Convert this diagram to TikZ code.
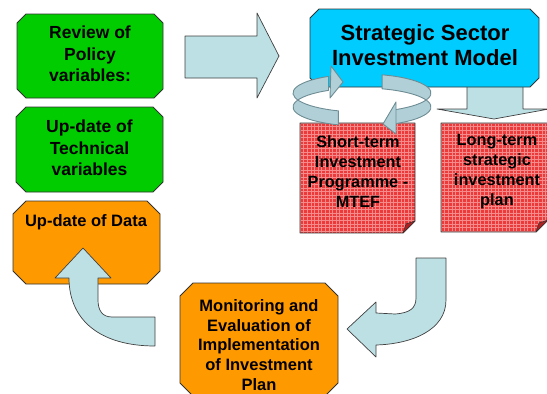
\documentclass[tikz,border=0pt]{standalone}
\usepackage{fontspec}
\setmainfont{Liberation Sans}
\definecolor{grn}{HTML}{00CC00}
\definecolor{org}{HTML}{FF9900}
\definecolor{blu}{HTML}{00CCFF}
\definecolor{arw}{HTML}{BDE0E4}
\definecolor{pg}{HTML}{EC3A3A}
\definecolor{pgl}{HTML}{F78A8A}
\definecolor{pgd}{HTML}{B02020}
\definecolor{ringc}{HTML}{B0CFD6}
\definecolor{ringd}{HTML}{6E8C94}
\newcommand\chamf[5]{(#1+#5,#2) -- (#3-#5,#2) -- (#3,#2+#5) -- (#3,#4-#5) -- (#3-#5,#4) -- (#1+#5,#4) -- (#1,#4-#5) -- (#1,#2+#5) -- cycle}
\newcommand\pagepath[4]{(#1,#2) -- (#3,#2) -- (#3,#4-12) -- (#3-12,#4) -- (#1,#4) -- cycle}
\newcommand\ribbonpath[2]{(362,93) ++(#1:69 and 19) arc[start angle=#1, end angle=#2, x radius=69, y radius=19] -- ++(0,14) arc[start angle=#2, end angle=#1, x radius=69, y radius=19] -- cycle}
\newcommand\redpage[4]{%
  \begin{scope}
    \clip \pagepath{#1}{#2}{#3}{#4};
    \fill[pg] (#1,#2) rectangle (#3,#4);
    \foreach \gx in {0,3.6,...,120} {\draw[gridln] (#1+\gx,#2) -- (#1+\gx,#4);}
    \foreach \gy in {0,3.6,...,115} {\draw[gridln] (#1,#2+\gy) -- (#3,#2+\gy);}
  \end{scope}
  \draw[pagebord] \pagepath{#1}{#2}{#3}{#4};
  \filldraw[fill=pgd, draw=black!80, line width=0.6pt, line join=round] (#3,#4-12) -- (#3-12,#4) -- (#3-9,#4-9) -- cycle;
}
\tikzset{
  box/.style={draw=black!80, line width=0.8pt, line join=round},
  blockarrow/.style={fill=arw, draw=black!75, line width=0.7pt, line join=round},
  gridln/.style={draw=pgl, line width=0.45pt},
  pagebord/.style={draw=black!80, line width=0.8pt, line join=round},
  lblg/.style={font=\bfseries\fontsize{17.5}{21.7}\selectfont, align=center, text=black, inner sep=0pt},
  lblr/.style={font=\bfseries\fontsize{16.3}{20}\selectfont, align=center, text=black, inner sep=0pt},
  lblo/.style={font=\bfseries\fontsize{16.5}{19.75}\selectfont, align=center, text=black, inner sep=0pt},
  lblb/.style={font=\bfseries\fontsize{22}{25.5}\selectfont, align=center, text=black, inner sep=0pt},
  ribbon/.style={fill=ringc, draw=ringd, line width=0.9pt, line join=round},
}
\begin{document}
\begin{tikzpicture}[x=1pt, y=-1pt]
\useasboundingbox (0,0) rectangle (547,394);
\clip (0,0) rectangle (547,394);

% green boxes
\draw[box, fill=grn] \chamf{17}{14}{163}{98}{9};
\node[lblg] (policy) at (90,54) {Review of\\Policy\\variables:};
\draw[box, fill=grn] \chamf{16}{107}{163}{192}{10};
\node[lblg] (tech) at (89.5,148) {Up-date of\\Technical\\variables};

% orange boxes
\draw[box, fill=org] \chamf{13}{201}{160}{284}{13};
\node[lblo] (data) at (86,222) {Up-date of Data};
\draw[box, fill=org] \chamf{180}{283}{338}{396}{13};
\node[lblo] (monitor) at (259,345) {Monitoring and\\Evaluation of\\Implementation\\of Investment\\Plan};

% big right arrow
\draw[blockarrow] (185,36) -- (257,36) -- (257,13) -- (279,56) -- (257,98) -- (257,78) -- (185,78) -- cycle;

% down arrow under blue box
\draw[blockarrow] (467,70) -- (523,70) -- (523,109) -- (549,109) -- (494,119) -- (437,109) -- (467,109) -- cycle;

% blue box
\draw[box, fill=blu] \chamf{310}{9}{539}{87}{9};
\node[lblb] (model) at (425,45) {Strategic Sector\\Investment Model};

% red pages
\redpage{300}{123}{415}{233}
\node[lblr] (short) at (358,172) {Short-term\\Investment\\Programme -\\MTEF};
\redpage{441}{123}{548}{232}
\node[lblr] (long) at (497,172) {Long-term\\strategic\\investment\\plan};

% circular ribbon arrows
\draw[ribbon] \ribbonpath{110}{241};
\draw[ribbon] (331,66) -- (343,82) -- (330,98) -- cycle;
\draw[ribbon] \ribbonpath{287}{421};
\draw[ribbon] (396,102) -- (383,124) -- (396,134) -- cycle;

% J arrow to monitoring
\draw[blockarrow] (416,258) -- (446,258) -- (446,300) .. controls (446,330) and (412,344) .. (376,345) -- (376,357) -- (347,329) -- (376,302) -- (376,313) -- (395,314) .. controls (410,313) and (416,308) .. (416,298) -- cycle;

% up arrow into data box
\draw[blockarrow] (155,317) -- (155,346) .. controls (100,346) and (69,320) .. (69,278) -- (55,278) -- (83,248) -- (111,278) -- (98,278) -- (98,300) .. controls (98,310) and (102,317) .. (112,317) -- cycle;
\end{tikzpicture}
\end{document}
